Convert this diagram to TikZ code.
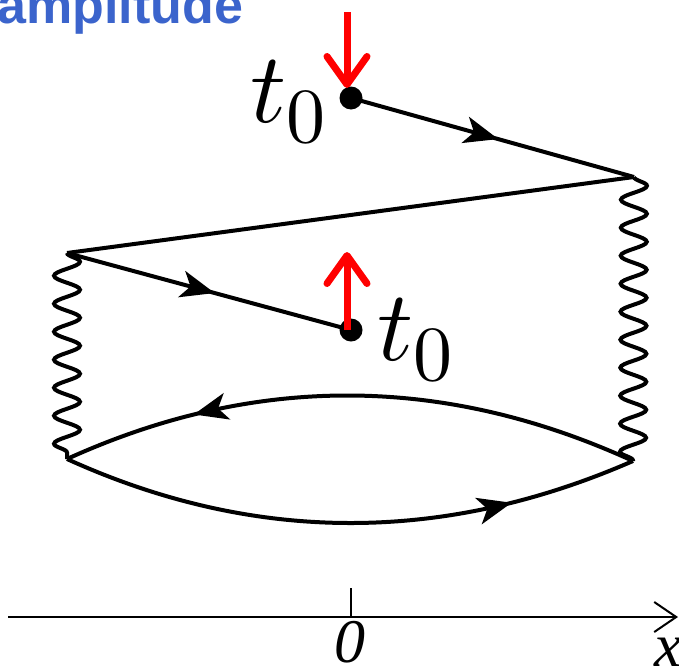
\documentclass[tikz,border=0pt]{standalone}
\usepackage{fontspec}
\usepackage{unicode-math}
\newfontfamily\arialfont{Liberation Sans}
\newfontfamily\timesfont{Liberation Serif}
\usetikzlibrary{arrows.meta,decorations.pathmorphing,decorations.markings}
\definecolor{ampblue}{RGB}{59,100,204}
\newcommand{\tzero}{$t$\raisebox{-10pt}{\fontsize{39}{40}\selectfont$0$}}
\begin{document}
\begin{tikzpicture}[x=0.5pt,y=-0.5pt,
  line/.style={line width=2pt, black},
  midarrow/.style={postaction={decorate},decoration={markings,mark=at position #1 with {\arrow{Stealth[length=17pt,width=13.5pt,inset=4.5pt]}}}},
  wavy/.style={line width=2pt, decorate, decoration={snake, segment length=14pt, amplitude=6.5pt}},
  dot/.style={circle, fill=black, inner sep=0pt, minimum size=11.5pt},
  redarrow/.style={line width=3.5pt, red, -{Straight Barb[length=14pt,width=20pt,line cap=round,line join=round]}},
  lbl/.style={inner sep=0pt, font=\fontsize{50}{60}\selectfont},
  axlbl/.style={inner sep=0pt, font=\timesfont\itshape\fontsize{31}{37}\selectfont},
]
\useasboundingbox (0,0) rectangle (679,669);

% title
\node[anchor=base west, inner sep=0pt, text=ampblue, font=\arialfont\bfseries\fontsize{26}{31}\selectfont] (title) at (-3,23) {amplitude};

% points
\node[dot] (top) at (351,98) {};
\node[dot] (bot) at (351,330) {};
\coordinate (R1) at (634,177);
\coordinate (L1) at (67,253);
\coordinate (L2) at (67,459);
\coordinate (R2) at (633,461);

% labels
\node[lbl, anchor=base west] (ttop) at (250,122) {\tzero};
\node[lbl, anchor=base west] (tbot) at (377,360) {\tzero};

% contour
\draw[line, midarrow=0.52] (top.center) -- (R1);
\draw[line] (R1) -- (L1);
\draw[line, midarrow=0.52] (L1) -- (bot.center);
\draw[line, midarrow=0.77] (R2) .. controls (443,374) and (254,374) .. (L2);
\draw[line, midarrow=0.78] (L2) .. controls (254,544) and (443,544) .. (R2);

% wavy lines
\draw[wavy] (L1) -- (L2);
\draw[wavy] (R1) -- (R2);

% red arrows
\coordinate (rs1) at (347,12);
\coordinate (re1) at (347,88);
\coordinate (rs2) at (347,330);
\coordinate (re2) at (347,252);
\draw[redarrow] (rs1) -- (re1);
\draw[redarrow] (rs2) -- (re2);

% axis
\coordinate (ax0) at (8,617);
\coordinate (ax1) at (678,617);
\coordinate (tk0) at (351,617);
\coordinate (tk1) at (351,588);
\draw[line width=1pt, -{Straight Barb[length=11pt,width=15pt]}] (ax0) -- (ax1);
\draw[line width=1pt] (tk0) -- (tk1);
\node[axlbl, anchor=base] (zero) at (350,662) {0};
\node[axlbl, anchor=base west] (xl) at (654,666) {x};
\end{tikzpicture}
\end{document}
